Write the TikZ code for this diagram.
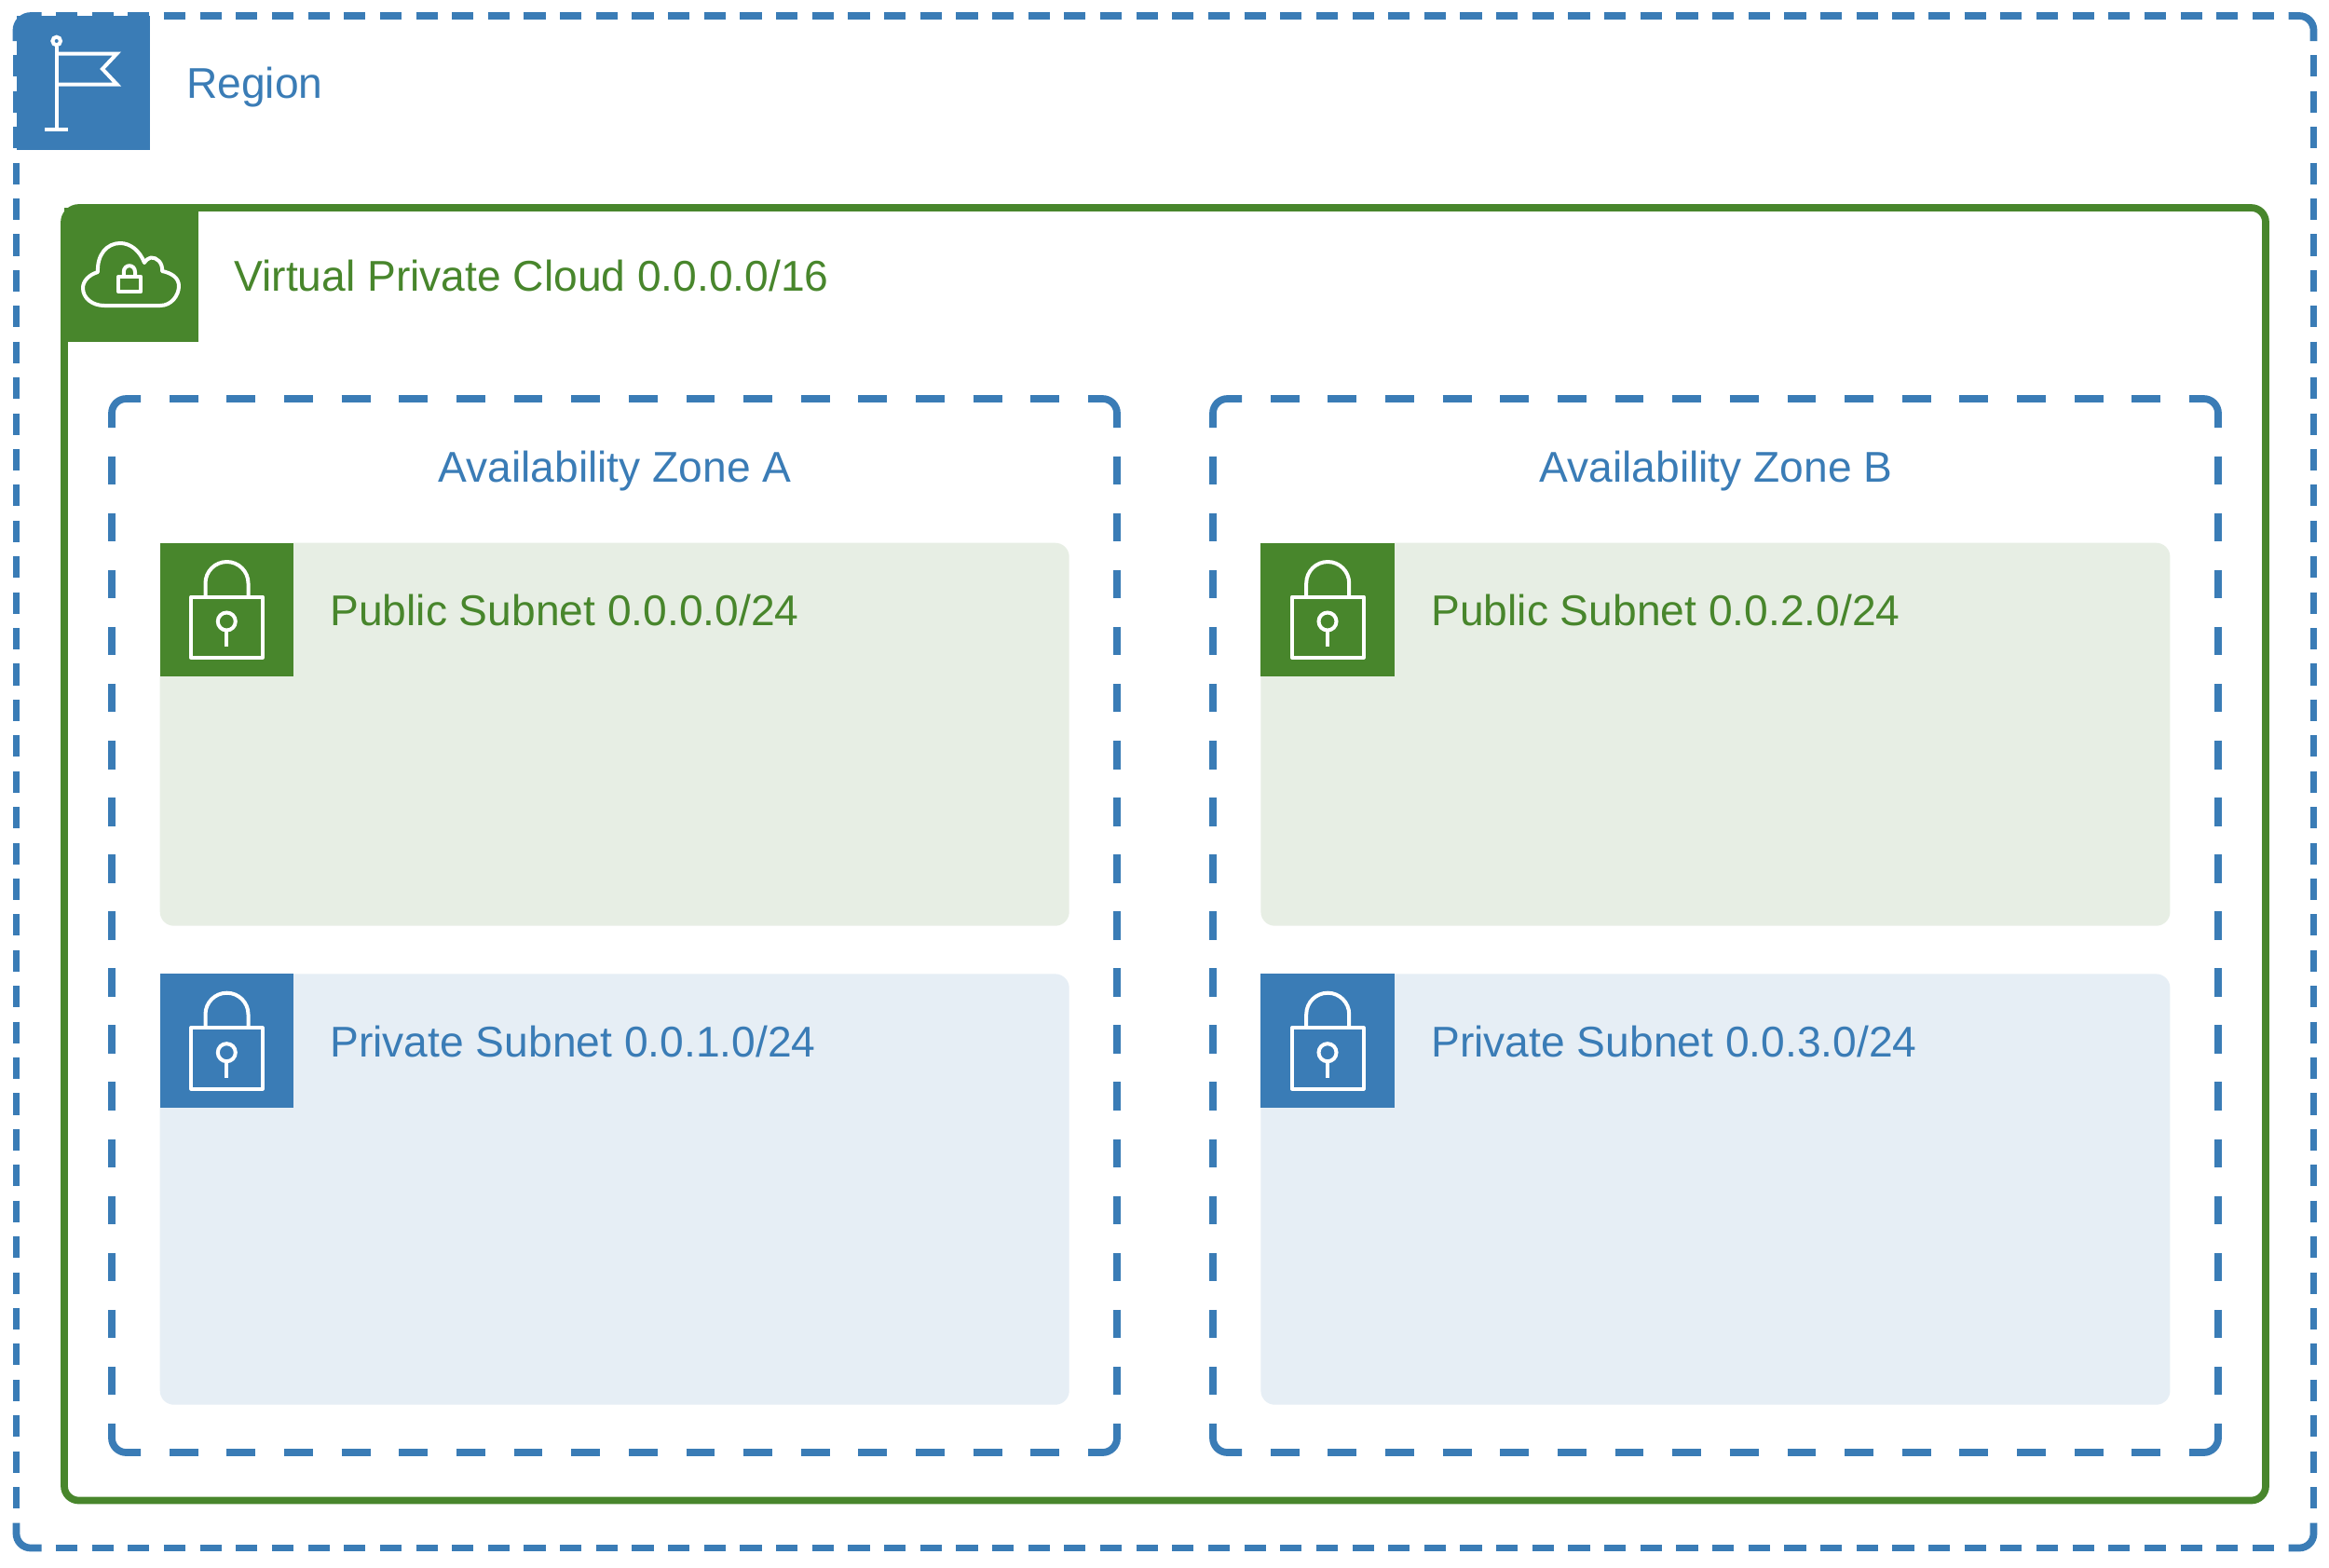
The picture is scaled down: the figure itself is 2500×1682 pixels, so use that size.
\documentclass[tikz,border=0pt]{standalone}
\usepackage{fontspec}
\setmainfont{Liberation Sans}
\definecolor{awsblue}{HTML}{3A7CB6}
\definecolor{awsgreen}{HTML}{48862C}
\definecolor{pubfill}{HTML}{E7EEE4}
\definecolor{privfill}{HTML}{E6EEF5}
\tikzset{
  zonefont/.style={font=\fontsize{23.09}{28}\selectfont},
  lbl/.style={zonefont,inner sep=0pt,anchor=base west},
  iconsq/.style={anchor=north west,inner sep=0pt,minimum size=71.85pt,draw=none},
  subnetbox/.style={anchor=north west,inner sep=0pt,minimum width=488pt,rounded corners=7.5pt,draw=none},
  glyph/.style={draw=white,line width=2pt,line join=miter},
  edge/.style={line width=3.86pt,line cap=butt,draw=awsblue}
}
% one side of a dashed box: gap first, gap last, fitted between the corner pieces
\newcommand{\myside}[6]{%
  \pgfmathsetmacro\sideL{veclen(#3-#1,#4-#2)}%
  \pgfmathsetmacro\sideK{round((\sideL-#6)/(#5+#6))}%
  \pgfmathsetmacro\sideS{\sideL/(\sideK*(#5+#6)+#6)}%
  \pgfmathsetmacro\sideOn{0.5*\sideS*#5}%
  \pgfmathsetmacro\sideOff{0.5*\sideS*#6}%
  \draw[edge,dash pattern=on \sideOn pt off \sideOff pt,dash phase=\sideOn pt] (#1,#2) -- (#3,#4);%
}
% x1 y1 x2 y2 cornerlength on off
\newcommand{\mybox}[7]{%
  \pgfmathsetmacro\xa{#1+#5}\pgfmathsetmacro\xb{#3-#5}%
  \pgfmathsetmacro\ya{#2+#5}\pgfmathsetmacro\yb{#4-#5}%
  \begin{scope}[rounded corners=7.75pt]
    \draw[edge] (\xa,#2) -- (#1,#2) -- (#1,\ya);
    \draw[edge] (\xb,#2) -- (#3,#2) -- (#3,\ya);
    \draw[edge] (\xb,#4) -- (#3,#4) -- (#3,\yb);
    \draw[edge] (\xa,#4) -- (#1,#4) -- (#1,\yb);
  \end{scope}
  \myside{\xa}{#2}{\xb}{#2}{#6}{#7}
  \myside{\xa}{#4}{\xb}{#4}{#6}{#7}
  \myside{#1}{\ya}{#1}{\yb}{#6}{#7}
  \myside{#3}{\ya}{#3}{\yb}{#6}{#7}
}
% name x y colour
\newcommand{\lockicon}[4]{%
  \node[iconsq,fill=#4] (#1) at (#2,#3) {};
  \begin{scope}[shift={(#2,#3)}]
    \draw[glyph,line join=round] (33.9,58.2) rectangle (110.5,123.5);
    \draw[glyph] (49.2,58.2) -- (49.2,43.7) arc[start angle=180,end angle=360,radius=23] -- (95.2,58.2);
    \draw[glyph] (72,84.7) circle[radius=9.5];
    \draw[glyph] (72,94.2) -- (72,112);
  \end{scope}
}
\begin{document}
\begin{tikzpicture}[x=0.5pt,y=-0.5pt]
\useasboundingbox (0,0) rectangle (2500,1682);
\fill[white] (0,0) rectangle (2500,1682);

% Region
\mybox{17.5}{17}{2483.5}{1661.5}{27}{23.2}{15.47}
\node[iconsq,fill=awsblue] (regionicon) at (17.3,17) {};
\draw[glyph] (60.7,50) -- (60.7,138.5);
\draw[glyph] (60.7,44) circle[radius=4.3];
\draw[glyph] (48.3,138.5) -- (73,138.5);
\draw[glyph] (60.7,57.5) -- (125.5,57.5) -- (110,74) -- (125.5,90.5) -- (60.7,90.5);
\node[lbl,text=awsblue] (regionlabel) at (199.7,105.8) {Region};

% VPC
\draw[awsgreen,line width=3.86pt,rounded corners=7.75pt] (69,223) rectangle (2432,1610.5);
\node[iconsq,fill=awsgreen] (vpcicon) at (69,223) {};
\draw[glyph,line join=round] (112,328) -- (172,328)
  .. controls (184,328) and (192,317) .. (192,307)
  .. controls (192,298) and (184,293) .. (174,291)
  .. controls (175,282) and (168,276) .. (162,276.5)
  .. controls (159,277) and (157,279) .. (155,282)
  .. controls (150,269) and (140,261) .. (129,261)
  .. controls (115,261) and (104,273) .. (105,292)
  .. controls (95,295) and (89,302) .. (89,309)
  .. controls (89,320) and (99,328) .. (112,328) -- cycle;
\draw[glyph,line join=round] (127,297) rectangle (151.3,313);
\draw[glyph] (132.8,297) -- (132.8,292) .. controls (132.8,283) and (145,283) .. (145,292) -- (145,297);
\node[lbl,text=awsgreen] (vpclabel) at (251,312) {Virtual Private Cloud 0.0.0.0/16};

% Availability zones
\mybox{120}{428}{1199}{1559}{31}{30.9}{30.9}
\mybox{1302}{428}{2381}{1559}{31}{30.9}{30.9}
\node[zonefont,inner sep=0pt,anchor=base,text=awsblue] (zoneA) at (660,517.5) {Availability Zone A};
\node[zonefont,inner sep=0pt,anchor=base,text=awsblue] (zoneB) at (1842,517.5) {Availability Zone B};

% Subnets
\node[subnetbox,fill=pubfill,minimum height=205.5pt] (pubA) at (171.3,582.3) {};
\node[subnetbox,fill=privfill,minimum height=231.15pt] (privA) at (171.3,1045) {};
\node[subnetbox,fill=pubfill,minimum height=205.5pt] (pubB) at (1353,582.3) {};
\node[subnetbox,fill=privfill,minimum height=231.15pt] (privB) at (1353,1045) {};

\lockicon{pubAicon}{171.3}{582.3}{awsgreen}
\lockicon{privAicon}{171.3}{1045}{awsblue}
\lockicon{pubBicon}{1353}{582.3}{awsgreen}
\lockicon{privBicon}{1353}{1045}{awsblue}

\node[lbl,text=awsgreen] (pubAlabel) at (354,671.7) {Public Subnet 0.0.0.0/24};
\node[lbl,text=awsblue] (privAlabel) at (354,1134.2) {Private Subnet 0.0.1.0/24};
\node[lbl,text=awsgreen] (pubBlabel) at (1536,671.7) {Public Subnet 0.0.2.0/24};
\node[lbl,text=awsblue] (privBlabel) at (1536,1134.2) {Private Subnet 0.0.3.0/24};
\end{tikzpicture}
\end{document}
